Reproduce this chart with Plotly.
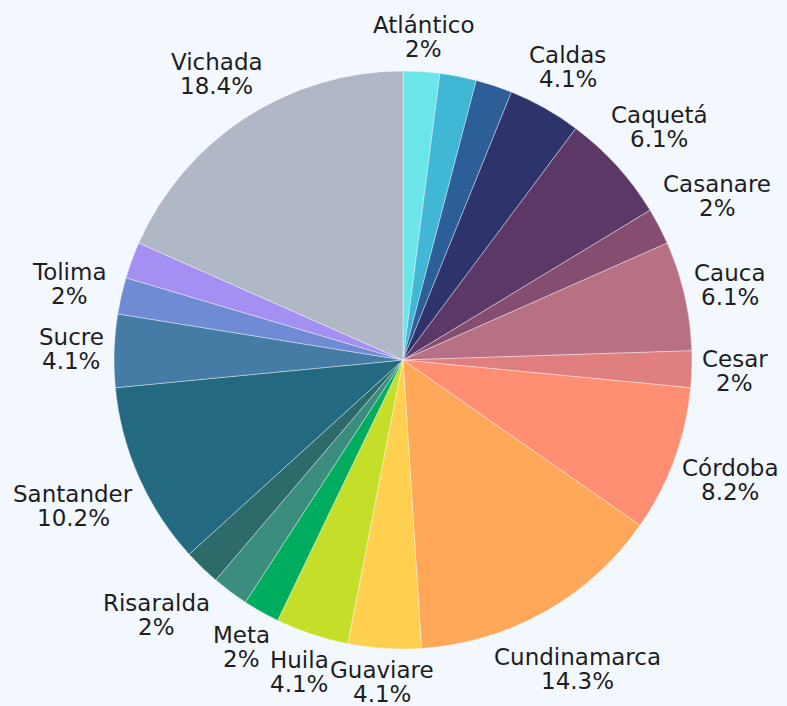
import math
import plotly.graph_objects as go

departamentos = ["Atlántico", "Bolívar", "Boyacá", "Caldas", "Caquetá", "Casanare", "Cauca",
                 "Cesar", "Córdoba", "Cundinamarca", "Guaviare", "Huila", "Meta", "Nariño",
                 "Risaralda", "Santander", "Sucre", "Tolima", "Valle del Cauca", "Vichada"]
conteos = [1, 1, 1, 2, 3, 1, 3, 1, 4, 7, 2, 2, 1, 1, 1, 5, 2, 1, 1, 9]
mostrar_etiqueta = [True, False, False, True, True, True, True, True, True, True,
                    True, True, True, False, True, True, True, True, False, True]
colores = ["#6CE5E8", "#40B8D5", "#2C5E98", "#2F336B", "#5C3867", "#854E70", "#B77084",
           "#E07F80", "#FF8E72", "#FFA85A", "#FFD050", "#C5DE29", "#00AD5F", "#3B8E7E",
           "#2C6B6A", "#236A80", "#457CA6", "#6F8BD3", "#A490F2", "#B0B8C6"]

total = sum(conteos)


def fmt_pct(v):
    p = round(v / total * 100, 1)
    s = f"{p:.1f}".rstrip("0").rstrip(".")
    return s + "%"


# layout geometry (pixels)
W, H = 787, 706
ML, MR, MT, MB = 114, 95, 71, 57
side = W - ML - MR  # 578
radio = side / 2
cx, cy = ML + radio, MT + radio
FONT = "DejaVu Sans"
FS = 23
LINE = 24
GAP = 10
CHAR_W = 6.5
HALF_H = 20.5

fig = go.Figure(go.Pie(
    labels=departamentos,
    values=conteos,
    textinfo="none",
    sort=False,
    direction="clockwise",
    rotation=0,
    marker=dict(colors=colores, line=dict(color="rgba(255,255,255,0.55)", width=0.7)),
    showlegend=False,
    domain=dict(x=[0, 1], y=[0, 1]),
))


def to_paper(px, py):
    return (px - ML) / side, 1 - (py - MT) / side


annotations = []
acum = 0
for d, v, m in zip(departamentos, conteos, mostrar_etiqueta):
    mid = (acum + v / 2) / total * 2 * math.pi
    acum += v
    if not m:
        continue
    pct = fmt_pct(v)
    s, c = math.sin(mid), math.cos(mid)
    a = CHAR_W * max(len(d), len(pct))
    dist = radio + GAP + a * abs(s) + HALF_H * abs(c)
    lx = cx + dist * s
    ly = cy - dist * c
    for txt, dy in ((d, -LINE / 2), (pct, LINE / 2)):
        px, py = to_paper(lx, ly + dy)
        annotations.append(dict(
            x=px, y=py, xref="paper", yref="paper", text=txt, showarrow=False,
            xanchor="center", yanchor="middle",
            font=dict(family=FONT, size=FS, color="#1E1E1E"),
        ))

fig.update_layout(
    width=W, height=H,
    margin=dict(l=ML, r=MR, t=MT, b=MB),
    paper_bgcolor="#F3F8FE",
    plot_bgcolor="#F3F8FE",
    font=dict(family=FONT, size=FS, color="#1E1E1E"),
    annotations=annotations,
)

fig.write_html(
    "out.html",
    config={"displayModeBar": False},
    post_script="document.body.style.margin='0';document.body.style.background='#F3F8FE';",
)
